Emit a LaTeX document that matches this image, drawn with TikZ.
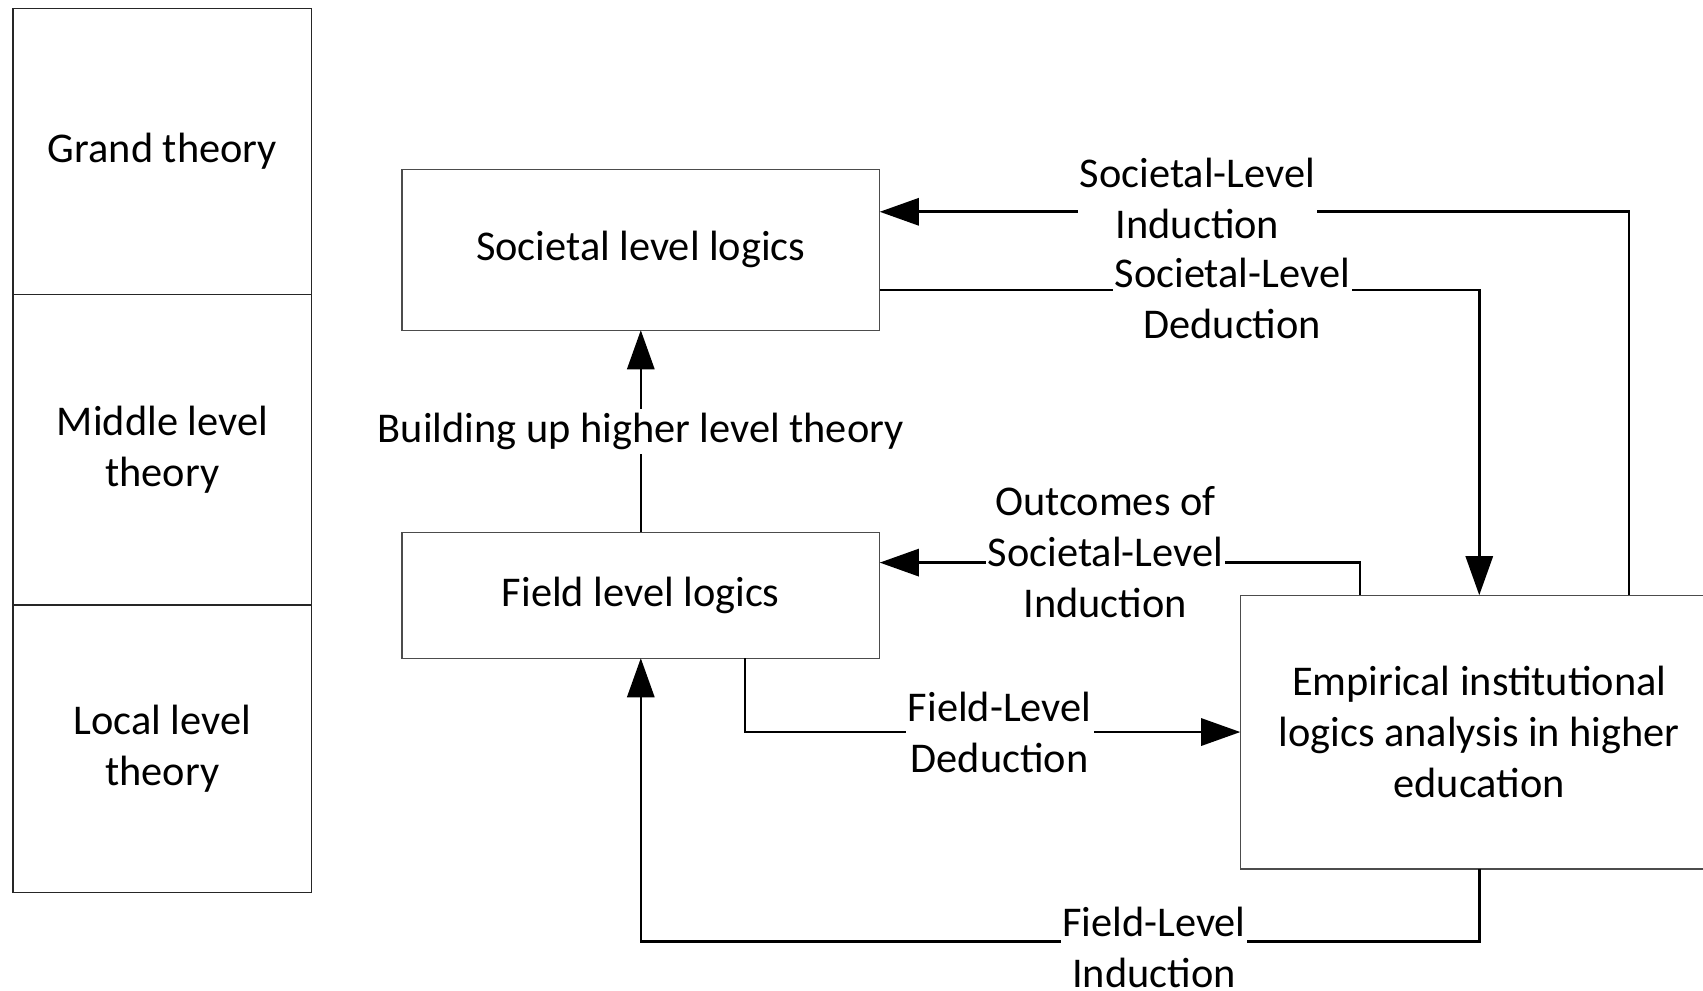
\documentclass[tikz,border=0pt]{standalone}
\usepackage{fontspec}
\setmainfont{Carlito}
\usetikzlibrary{
  arrows.meta,
  positioning,
  calc
}

\begin{document}
\begin{tikzpicture}[
      x=0.5pt,y=-0.5pt,
      every node/.style={font=\fontsize{19.5}{23.5}\selectfont},
      theory cell/.style={
         rectangle,
         draw=black!85,
         line width=0.6pt,
         minimum width=137.5pt,
         align=center,
         inner sep=0pt,
         outer sep=0pt
      },
      level box/.style={
         rectangle,
         draw=black!70,
         line width=0.6pt,
         minimum width=220pt,
         align=center,
         outer sep=0pt
      },
      link label/.style={
         fill=white,
         inner sep=1pt,
         align=center
      },
      link/.style={line width=1.2pt,draw=black},
      tip/.style={-{Triangle[length=18pt,width=12.5pt]}}
    ]
    \useasboundingbox (0,0) rectangle (1568,912);
    \clip (0,0) rectangle (1568,912);

    % theory levels
    \node (grand) [theory cell, minimum height=131.5pt] at (149.5,139.5) {Grand theory};
    \node (middle) [theory cell, minimum height=143pt, below=0pt of grand] {Middle level\\theory};
    \node (local) [theory cell, minimum height=132.5pt, below=0pt of middle] {Local level\\theory};

    % logics
    \node (societal) [level box, minimum height=74pt] at (590,230) {Societal level logics};
    \node (field) [level box, minimum height=58pt] at (590,548) {Field level logics};
    \node (empirical) [level box, minimum height=126pt] at (1362,674)
       {Empirical institutional\\logics analysis in higher\\education};

    \draw [link,tip] (field) -- node [link label, inner sep=2pt] {Building up higher level theory} (societal);
    \draw [link,tip] ($(empirical.north)+(138,0)$) |-
       node [link label, pos=0.788, yshift=6pt] {Societal-Level\\Induction} ($(societal.east)+(0,-35)$);
    \draw [link,tip] ($(societal.east)+(0,37)$) -|
       node [link label, pos=0.294, yshift=-4pt] {Societal-Level\\Deduction} (empirical.north);
    \draw [link,tip] ($(empirical.north)+(-110,0)$) |-
       node [link label, pos=0.765, yshift=5pt] {Outcomes of\\Societal-Level\\Induction} ($(field.east)+(0,-30)$);
    \draw [link,tip] ($(field.south)+(96,0)$) |-
       node [link label, pos=0.757] {Field-Level\\Deduction} (empirical.west);
    \draw [link,tip] (empirical.south) -- ++(0,67) -|
       node [link label, inner sep=0.5pt, pos=0.194, yshift=-2.5pt] {Field-Level\\Induction} (field.south);
\end{tikzpicture}
\end{document}
